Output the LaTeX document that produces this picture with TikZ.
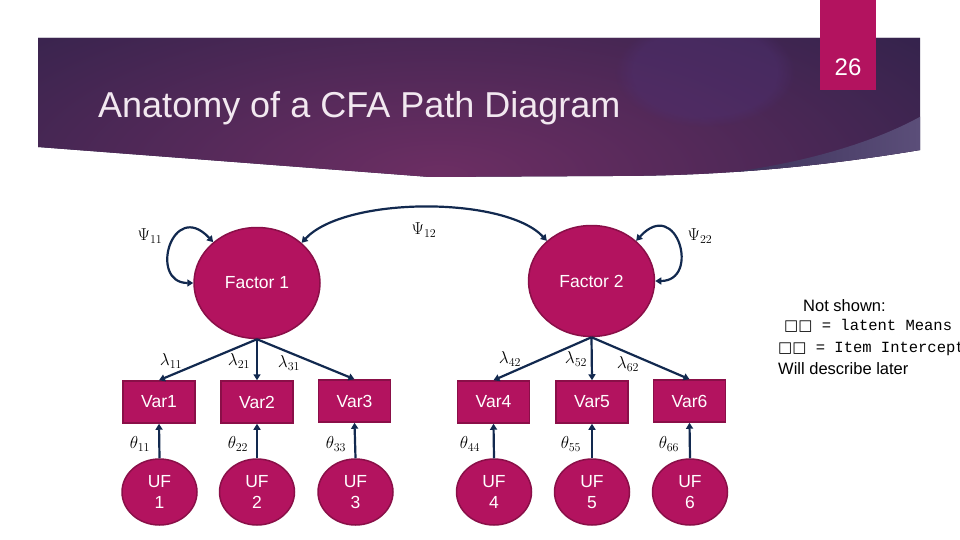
\documentclass[tikz,border=0pt]{standalone}
\usepackage{fontspec}
\setmainfont{Liberation Sans}
\newfontfamily\monofont{Liberation Mono}
\newfontfamily\symfont{DejaVu Sans}
\usetikzlibrary{shapes.geometric,arrows.meta,fadings}
\definecolor{mag}{HTML}{B3135F}
\definecolor{magb}{HTML}{8A0F48}
\definecolor{navy}{HTML}{12294F}
\definecolor{bandDark}{HTML}{2A2148}
\definecolor{bandMid}{HTML}{6C2E63}
\definecolor{glow}{HTML}{4D2F70}
\definecolor{wedge}{HTML}{5C4F7A}
\definecolor{titlec}{HTML}{F2E8F0}
\begin{document}
\begin{tikzpicture}[x=1pt,y=-1pt,
  factor/.style={ellipse, fill=mag, draw=magb, line width=1.5pt, minimum width=126pt, minimum height=111pt, inner sep=0pt, text=white, font=\fontsize{17.5}{20}\selectfont},
  obs/.style={rectangle, fill=mag, draw=magb, line width=1.5pt, minimum width=72pt, minimum height=42pt, inner sep=0pt, text=white, font=\fontsize{17.5}{20}\selectfont},
  uf/.style={ellipse, fill=mag, draw=magb, line width=1.5pt, minimum width=75pt, minimum height=66pt, inner sep=0pt, text=white, align=center, font=\fontsize{17.5}{21.5}\selectfont},
  arr/.style={draw=navy, line width=2.2pt, -{Triangle[length=6pt,width=7pt]}},
  arrtwo/.style={draw=navy, line width=2.2pt, {Triangle[length=6pt,width=7pt]}-{Triangle[length=6pt,width=7pt]}},
  lab/.style={inner sep=0pt, font=\fontsize{18.5}{22}\selectfont},
  note/.style={anchor=base west, inner sep=0pt, font=\fontsize{16.5}{19}\selectfont},
  mono/.style={anchor=base west, inner sep=0pt, font=\monofont\fontsize{15.5}{18}\selectfont}
]
\useasboundingbox (0,0) rectangle (960,540);
\clip (0,0) rectangle (960,540);
\fill[white] (0,0) rectangle (960,540);

% banner
\begin{scope}
  \clip (38,38) -- (920,38) -- (920,150) .. controls (800,170) and (700,176) .. (613,176) -- (430,177) -- (38,147) -- cycle;
  \fill[bandDark] (0,0) rectangle (960,200);
  \shade[inner color=bandMid, outer color=bandDark] (440,175) ellipse (720 and 270);
  \fill[glow, fill opacity=0.45, path fading=circle with fuzzy edge 20 percent] (705,72) ellipse (90 and 55);
  \shade[left color=bandDark!80!wedge, right color=wedge] (680,178) .. controls (800,168) and (880,140) .. (925,114) -- (925,200) -- (680,200) -- cycle;
\end{scope}

% page number
\fill[mag] (820,0) rectangle (876,90);
\node[text=white, font=\fontsize{24}{28}\selectfont, anchor=base] (num) at (848,76) {26};

% title
\node[anchor=base west, inner sep=0pt, text=titlec, font=\fontsize{36}{40}\selectfont] (title) at (98,118) {Anatomy of a CFA Path Diagram};

% factors
\node[factor] (f1) at (257,283) {Factor 1};
\node[factor] (f2) at (591.5,281) {Factor 2};

% observed
\node[obs] (v1) at (159,402) {Var1};
\node[obs] (v2) at (257,402) {Var2};
\node[obs] (v3) at (354.5,401) {Var3};
\node[obs] (v4) at (493.5,402) {Var4};
\node[obs] (v5) at (592,402) {Var5};
\node[obs] (v6) at (689.5,401) {Var6};

% uniqueness factors
\node[uf] (u1) at (159.5,492) {UF\\1};
\node[uf] (u2) at (257,492) {UF\\2};
\node[uf] (u3) at (355.5,492) {UF\\3};
\node[uf] (u4) at (494,492) {UF\\4};
\node[uf] (u5) at (592,492) {UF\\5};
\node[uf] (u6) at (690,492) {UF\\6};

% loadings
\draw[arr] (f1.south) -- (v1.north);
\draw[arr] (f1.south) -- (v2.north);
\draw[arr] (f1.south) -- (v3.north);
\draw[arr] (f2.south) -- (v4.north);
\draw[arr] (f2.south) -- (v5.north);
\draw[arr] (f2.south) -- (v6.north);

% unique paths
\draw[arr] (u1.north) -- (v1.south);
\draw[arr] (u2.north) -- (v2.south);
\draw[arr] (u3.north) -- (v3.south);
\draw[arr] (u4.north) -- (v4.south);
\draw[arr] (u5.north) -- (v5.south);
\draw[arr] (u6.north) -- (v6.south);

% variances / covariance
\draw[arrtwo] (f1.180) .. controls (148,283) and (172,198) .. (f1.137);
\draw[arrtwo] (f2.0) .. controls (701,281) and (677,196) .. (f2.42);
\draw[arrtwo] (f1.42) .. controls (345,196) and (505,196) .. (f2.138);

% labels
\node[lab] (psi11) at (150,236) {$\Psi_{11}$};
\node[lab] (psi12) at (424,230) {$\Psi_{12}$};
\node[lab] (psi22) at (700,236) {$\Psi_{22}$};
\node[lab] (l11) at (171,361) {$\lambda_{11}$};
\node[lab] (l21) at (239,361) {$\lambda_{21}$};
\node[lab] (l31) at (289,363) {$\lambda_{31}$};
\node[lab] (l42) at (510,359) {$\lambda_{42}$};
\node[lab] (l52) at (576,359) {$\lambda_{52}$};
\node[lab] (l62) at (628,364) {$\lambda_{62}$};
\node[lab] (t11) at (140,444) {$\theta_{11}$};
\node[lab] (t22) at (238,444) {$\theta_{22}$};
\node[lab] (t33) at (336,444) {$\theta_{33}$};
\node[lab] (t44) at (470,444) {$\theta_{44}$};
\node[lab] (t55) at (571,444) {$\theta_{55}$};
\node[lab] (t66) at (669,444) {$\theta_{66}$};

% note
\node[note] (ns) at (803,311) {Not shown:};
\node[mono] (lm) at (784,330) {{\symfont\fontsize{15}{18}\selectfont □□} = latent Means};
\node[mono] (ii) at (778,352) {{\symfont\fontsize{15}{18}\selectfont □□} = Item Intercept};
\node[note] (wd) at (778,374) {Will describe later};
\end{tikzpicture}
\end{document}
